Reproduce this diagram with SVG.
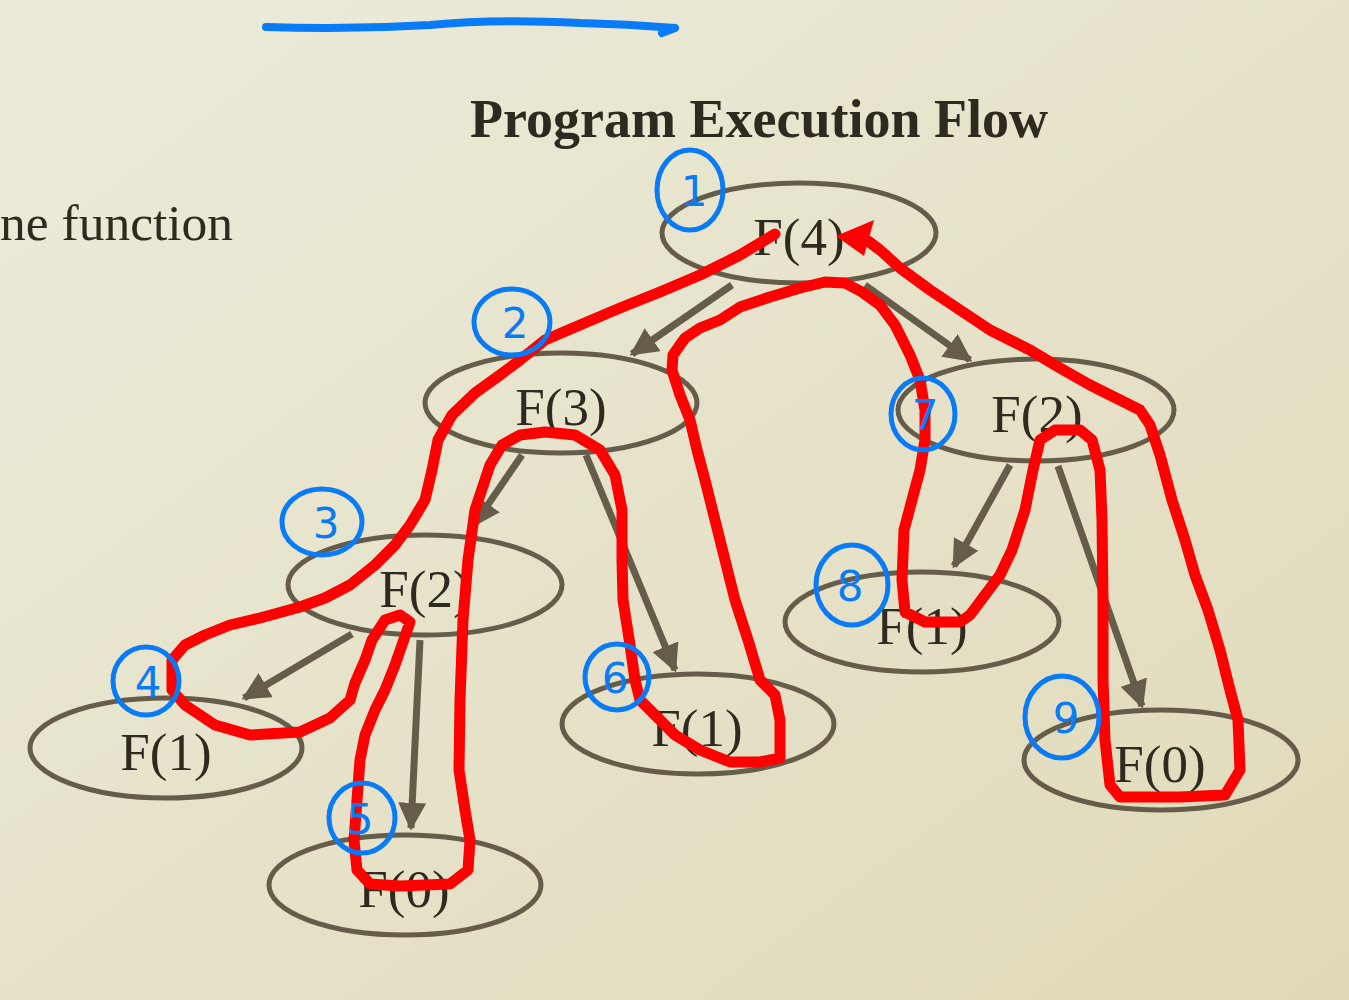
<svg xmlns="http://www.w3.org/2000/svg" width="1349" height="1000" viewBox="0 0 1349 1000">
<defs>
<linearGradient id="bg" x1="0" y1="0" x2="1" y2="1">
<stop offset="0" stop-color="#ecebdb"/>
<stop offset="1" stop-color="#e1dab9"/>
</linearGradient>
<marker id="ah" viewBox="0 0 10 10" refX="9" refY="5" markerWidth="4" markerHeight="4" orient="auto" markerUnits="strokeWidth">
<path d="M0,0 L10,5 L0,10 z" fill="#655c4a"/>
</marker>
</defs>
<style>
.node ellipse{fill:none;stroke:#655c4a;stroke-width:5}
.node text{font-family:"Liberation Serif","Times New Roman",serif;font-size:53px;fill:#2e2a20;text-anchor:middle}
.edge{stroke:#655c4a;stroke-width:7;fill:none;marker-end:url(#ah)}
.blue{fill:none;stroke:#0a7bf7;stroke-width:5;stroke-linecap:round;stroke-linejoin:round}
.num{font-family:"DejaVu Sans","Liberation Sans",sans-serif;font-size:42px;fill:#0a7bf7;text-anchor:middle}
.red{fill:none;stroke:#ff0000;stroke-width:11;stroke-linecap:round;stroke-linejoin:round}
</style>
<rect width="1349" height="1000" fill="url(#bg)"/>

<path d="M266,27 C320,29 380,28 430,25 C470,21 520,20 580,23 C620,24 650,26 675,28 M675,28 L662,33" style="fill:none;stroke:#0a7bf7;stroke-width:8;stroke-linecap:round;stroke-linejoin:round"/>

<text x="759" y="137" font-family="Liberation Serif,'Times New Roman',serif" font-weight="bold" font-size="54" fill="#2e2a20" text-anchor="middle">Program Execution Flow</text>
<text x="0" y="240" font-family="Liberation Serif,'Times New Roman',serif" font-size="51.5" fill="#2e2a20">ne function</text>

<g id="connectors">
<line class="edge" x1="732" y1="285" x2="632" y2="354"/>
<line class="edge" x1="865" y1="285" x2="970" y2="360"/>
<line class="edge" x1="522" y1="455" x2="474" y2="525"/>
<line class="edge" x1="586" y1="455" x2="675" y2="670"/>
<line class="edge" x1="352" y1="634" x2="244" y2="698"/>
<line class="edge" x1="420" y1="640" x2="411" y2="828"/>
<line class="edge" x1="1010" y1="465" x2="954" y2="566"/>
<line class="edge" x1="1058" y1="466" x2="1142" y2="706"/>
</g>

<g id="n_f4" class="node"><ellipse cx="799" cy="233" rx="137" ry="50"/><text x="799" y="255">F(4)</text></g>
<g id="n_f3" class="node"><ellipse cx="561" cy="403" rx="136" ry="50"/><text x="561" y="425">F(3)</text></g>
<g id="n_f2r" class="node"><ellipse cx="1036" cy="410" rx="138" ry="51"/><text x="1037" y="432">F(2)</text></g>
<g id="n_f2l" class="node"><ellipse cx="425" cy="585" rx="137" ry="50"/><text x="425" y="607">F(2)</text></g>
<g id="n_f1a" class="node"><ellipse cx="166" cy="748" rx="136" ry="50"/><text x="166" y="770">F(1)</text></g>
<g id="n_f0a" class="node"><ellipse cx="405" cy="885" rx="136" ry="50"/><text x="404" y="907">F(0)</text></g>
<g id="n_f1b" class="node"><ellipse cx="698" cy="724" rx="136" ry="50"/><text x="697" y="746">F(1)</text></g>
<g id="n_f1c" class="node"><ellipse cx="922" cy="622" rx="137" ry="50"/><text x="922" y="644">F(1)</text></g>
<g id="n_f0b" class="node"><ellipse cx="1161" cy="760" rx="137" ry="50"/><text x="1160" y="782">F(0)</text></g>

<g id="trace">
<path class="red" d="M775,234 L740,255 L700,275 L660,292 L620,308 L580,325 L545,340 L520,360 L500,375 L475,393 L452,415 L438,440 L432,470 L425,500 L410,525 L395,545 L375,565 L350,585 L325,598 L300,607 L260,618 L230,625 L205,635 L185,645 L172,660 L172,690 L185,705 L215,725 L250,735 L300,732 L330,718 L350,700 L355,683 L365,660 L372,640 L385,620 L400,615 L410,622 L402,645 L395,665 L385,690 L375,710 L365,735 L360,760 L357,800 L354,840 L357,870 L370,884 L400,886 L450,884 L468,870 L470,840 L465,810 L459,770 L460,700 L463,620 L468,560 L475,510 L490,465 L502,445 L520,435 L545,432 L575,435 L600,450 L615,475 L622,510 L622,560 L623,600 L630,645 L635,680 L640,700 L655,715 L675,735 L700,750 L730,762 L760,762 L780,758 L780,720 L775,695 L760,680 L748,640 L735,600 L725,560 L715,520 L705,480 L697,450 L690,420 L680,395 L672,370 L673,355 L685,338 L700,328 L720,320 L740,307 L770,297 L800,288 L825,282 L845,283 L862,292 L880,305 L895,325 L910,355 L920,380 L925,410 L925,440 L920,470 L912,500 L904,530 L902,580 L905,612 L925,622 L960,622 L970,615 L985,595 L1000,575 L1012,550 L1025,510 L1033,470 L1040,440 L1055,430 L1080,430 L1092,440 L1100,470 L1102,520 L1103,600 L1103,680 L1105,740 L1110,785 L1120,797 L1180,797 L1225,795 L1240,770 L1238,720 L1230,690 L1220,650 L1208,610 L1195,575 L1185,540 L1172,500 L1160,455 L1150,425 L1140,410 L1120,400 L1090,385 L1060,368 L1030,350 L990,330 L960,310 L930,290 L900,268 L880,250 L868,241"/>
<path d="M836,236 L874,220 L864,256 z" fill="#ff0000"/>
</g>

<g id="annotations">
<ellipse class="blue" cx="690" cy="190" rx="33" ry="40"/><text class="num" x="694" y="206">1</text>
<ellipse class="blue" cx="512" cy="322" rx="38" ry="33"/><text class="num" x="515" y="338">2</text>
<ellipse class="blue" cx="322" cy="522" rx="40" ry="33"/><text class="num" x="326" y="538">3</text>
<ellipse class="blue" cx="146" cy="681" rx="33" ry="34"/><text class="num" x="148" y="697">4</text>
<ellipse class="blue" cx="362" cy="818" rx="33" ry="35"/><text class="num" x="360" y="834">5</text>
<ellipse class="blue" cx="617" cy="677" rx="32" ry="33"/><text class="num" x="615" y="693">6</text>
<ellipse class="blue" cx="923" cy="414" rx="32" ry="36"/><text class="num" x="925" y="430">7</text>
<ellipse class="blue" cx="852" cy="585" rx="36" ry="40"/><text class="num" x="850" y="601">8</text>
<ellipse class="blue" cx="1062" cy="717" rx="37" ry="41"/><text class="num" x="1066" y="733">9</text>
</g>
</svg>
